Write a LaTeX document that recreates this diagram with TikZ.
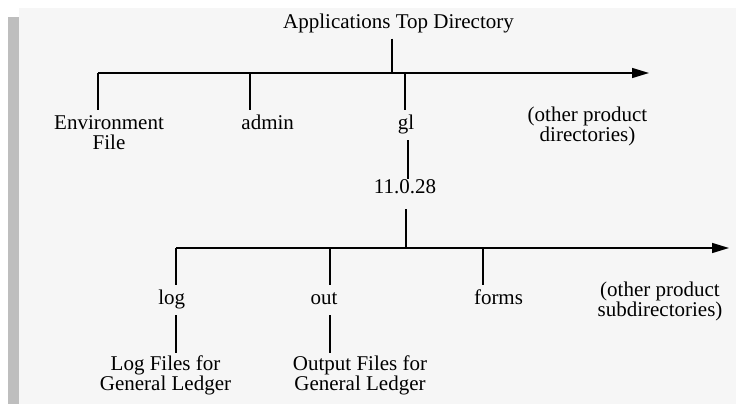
\documentclass[tikz,border=0pt]{standalone}
\usepackage{fontspec}
\setmainfont{Liberation Serif}
\usetikzlibrary{arrows.meta}
\definecolor{panel}{HTML}{F6F6F6}
\definecolor{sidebar}{HTML}{BEBEBE}
\tikzset{
  lbl/.style={font=\fontsize{21}{20}\selectfont, inner sep=0pt, outer ysep=5pt, anchor=base, align=center},
  word/.style={lbl, text height=14.3pt, text depth=6pt},
  tree/.style={line width=1.4pt},
  bus/.style={tree, -{Triangle[length=17pt,width=10pt]}}
}
\begin{document}
\begin{tikzpicture}[x=1pt, y=-1pt]
            \useasboundingbox (0,0) rectangle (736,404);
            \fill[panel] (19,8) rectangle (736,404);
            \fill[sidebar] (8,17) rectangle (19,404);

            \node[lbl] (top) at (398.5,29) {Applications Top Directory};
            \node[lbl] (env) at (109,149) {Environment\\File};
            \node[word] (admin) at (267.7,129) {admin};
            \node[word] (gl) at (406,129) {gl};
            \node[lbl] (otherdirs) at (587.5,141) {(other product\\directories)};
            \node[word, outer ysep=0pt, text depth=0pt] (ver) at (405,193) {11.0.28};
            \node[word] (log) at (171.7,304) {log};
            \node[word] (out) at (324,304) {out};
            \node[word] (forms) at (498.5,304) {forms};
            \node[lbl] (othersubs) at (660,316) {(other product\\subdirectories)};
            \node[lbl, outer ysep=2pt] (logfiles) at (165.5,390) {Log Files for\\General Ledger};
            \node[lbl, outer ysep=2pt] (outfiles) at (360,390) {Output Files for\\General Ledger};

            \coordinate (jtop) at (392,73);
            \coordinate (jenv) at (98,73);
            \coordinate (jadmin) at (250,73);
            \coordinate (jgl) at (405,73);
            \coordinate (busend) at (649,73);
            \coordinate (jver) at (406,248);
            \coordinate (jlog) at (176,248);
            \coordinate (jout) at (330,248);
            \coordinate (jforms) at (483,248);
            \coordinate (subend) at (729,248);

            \draw[tree] (jtop |- top.south) -- (jtop);
            \draw[bus] (jenv) -- (busend);
            \draw[tree] (jenv) -- (jenv |- env.north);
            \draw[tree] (jadmin) -- (jadmin |- admin.north);
            \draw[tree] (jgl) -- (jgl |- gl.north);
            \draw[tree] ([xshift=2pt]gl.south) -- ([xshift=3pt]ver.north);
            \draw[tree] ([xshift=1pt,yshift=-16pt]ver.south) -- (jver);
            \draw[bus] (jlog) -- (subend);
            \draw[tree] (jlog) -- (jlog |- log.north);
            \draw[tree] (jout) -- (jout |- out.north);
            \draw[tree] (jforms) -- (jforms |- forms.north);
            \draw[tree] (jlog |- log.south) -- (jlog |- logfiles.north);
            \draw[tree] (jout |- out.south) -- (jout |- outfiles.north);
        \end{tikzpicture}
\end{document}
